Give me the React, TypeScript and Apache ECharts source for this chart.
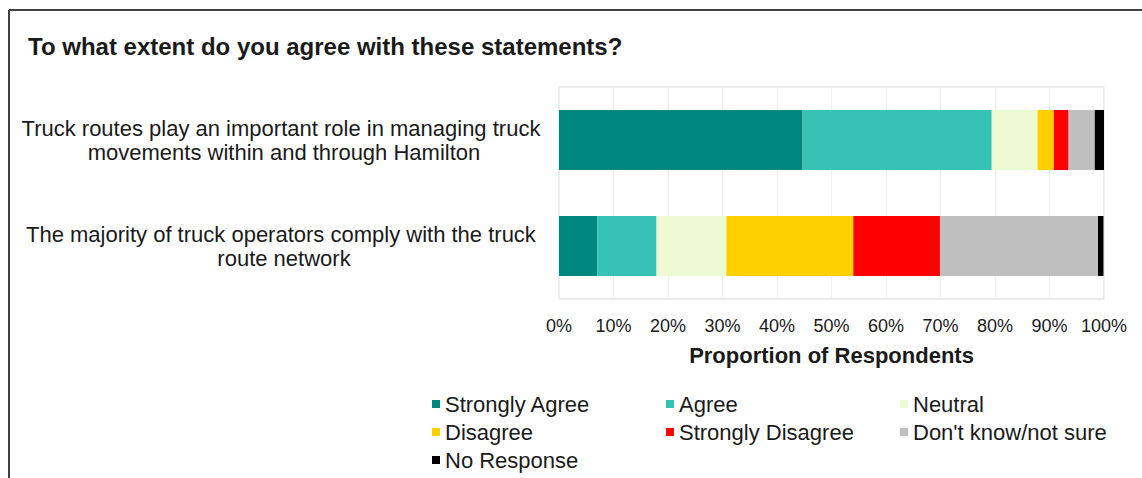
import React, { useEffect, useRef } from "react";
import * as echarts from "echarts";

const categories = [
  "Truck routes play an important role in managing truck movements within and through Hamilton",
  "The majority of truck operators comply with the truck route network",
];
const seriesNames = [
  "Strongly Agree",
  "Agree",
  "Neutral",
  "Disagree",
  "Strongly Disagree",
  "Don't know/not sure",
  "No Response",
];
const stronglyAgree = [44.7, 7.0];
const agree = [34.7, 10.9];
const neutral = [8.4, 12.8];
const disagree = [3.0, 23.3];
const stronglyDisagree = [2.7, 15.9];
const dontKnow = [4.8, 29.0];
const noResponse = [1.7, 1.0];
const seriesValues = [stronglyAgree, agree, neutral, disagree, stronglyDisagree, dontKnow, noResponse];
const colors = ["#00877f", "#36c2b4", "#eefbd2", "#ffd000", "#ff0000", "#bfbfbf", "#000000"];
const xTicks = { min: 0, max: 100, interval: 10 };

const FONT = "'Liberation Sans', Arial, sans-serif";

export default function App() {
  const ref = useRef<HTMLDivElement>(null);
  useEffect(() => {
    if (!ref.current) return;
    const chart = echarts.init(ref.current, undefined, { renderer: "svg" });
    const legendText = { fontSize: 22, color: "#1a1a1a", fontFamily: FONT };
    const legendBase = {
      orient: "vertical" as const,
      top: 388,
      height: 100,
      itemGap: 6,
      itemWidth: 8,
      itemHeight: 8,
      icon: "rect",
      textStyle: legendText,
      selectedMode: false,
    };
    chart.setOption({
      animation: false,
      textStyle: { fontFamily: FONT },
      title: {
        text: "To what extent do you agree with these statements?",
        left: 23,
        top: 29,
        textStyle: { fontSize: 24, fontWeight: "bold", color: "#1a1a1a", fontFamily: FONT },
      },
      graphic: [
        { type: "line", shape: { x1: 9, y1: 10, x2: 1142, y2: 10 }, style: { stroke: "#404040", lineWidth: 2 } },
        { type: "line", shape: { x1: 9, y1: 10, x2: 9, y2: 478 }, style: { stroke: "#404040", lineWidth: 2 } },
      ],
      legend: [
        { ...legendBase, left: 427, data: [seriesNames[0], seriesNames[3], seriesNames[6]] },
        { ...legendBase, left: 661, data: [seriesNames[1], seriesNames[4]] },
        { ...legendBase, left: 895, data: [seriesNames[2], seriesNames[5]] },
      ],
      grid: {
        left: 559,
        top: 87,
        width: 545,
        height: 212,
        show: true,
        borderColor: "#d9d9d9",
        borderWidth: 1,
        containLabel: false,
      },
      xAxis: {
        type: "value",
        min: xTicks.min,
        max: xTicks.max,
        interval: xTicks.interval,
        axisLine: { show: false },
        axisTick: { show: false },
        splitLine: { show: true, lineStyle: { color: "#efefef", width: 1 } },
        axisLabel: { formatter: "{value}%", fontSize: 18, color: "#1a1a1a", margin: 18, fontFamily: FONT },
        name: "Proportion of Respondents",
        nameLocation: "middle",
        nameGap: 45,
        nameTextStyle: { fontSize: 22, fontWeight: "bold", color: "#1a1a1a", fontFamily: FONT },
      },
      yAxis: {
        type: "category",
        data: categories,
        inverse: true,
        axisLine: { show: false },
        axisTick: { show: false },
        splitLine: { show: false },
        axisLabel: {
          fontSize: 22,
          color: "#1a1a1a",
          align: "center",
          margin: 275,
          width: 540,
          overflow: "break",
          lineHeight: 24,
          fontFamily: FONT,
        },
      },
      series: seriesNames.map((name, i) => ({
        name,
        type: "bar",
        stack: "total",
        barWidth: 60,
        data: seriesValues[i],
        itemStyle: { color: colors[i] },
      })),
    });
    return () => chart.dispose();
  }, []);
  return (
    <div
      ref={ref}
      style={{ position: "absolute", left: 0, top: 0, width: 1142, height: 478, background: "#fff" }}
    />
  );
}
